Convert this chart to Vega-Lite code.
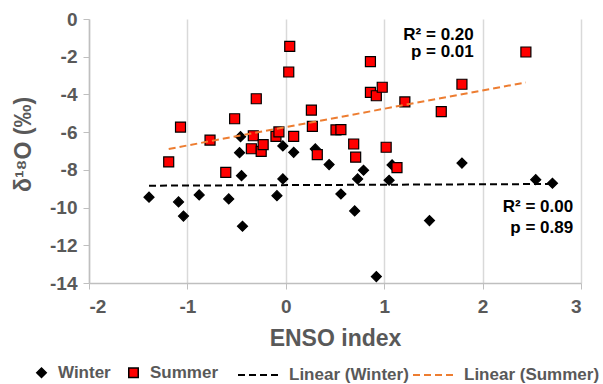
{
  "$schema": "https://vega.github.io/schema/vega-lite/v6.json",
  "width": 492,
  "height": 264,
  "autosize": "none",
  "padding": {"left": 89, "top": 19, "right": 22, "bottom": 101},
  "background": "white",
  "config": {
    "view": {"stroke": null},
    "font": "Liberation Sans",
    "axis": {
      "labelFont": "Liberation Sans",
      "labelFontSize": 19,
      "labelFontWeight": "bold",
      "labelColor": "#595959",
      "titleFont": "Liberation Sans",
      "titleFontSize": 23,
      "titleFontWeight": "bold",
      "titleColor": "#595959",
      "domainColor": "#bfbfbf",
      "tickColor": "#bfbfbf",
      "gridColor": "#d9d9d9",
      "tickSize": 6,
      "domainWidth": 1.5,
      "gridWidth": 1.5
    },
    "legend": {
      "labelFont": "Liberation Sans",
      "labelFontSize": 17,
      "labelFontWeight": "bold",
      "labelColor": "#595959",
      "labelLimit": 300
    }
  },
  "datasets": {
    "points": [
      {"season": "Winter", "enso": -1.39, "d18O": -9.45},
      {"season": "Winter", "enso": -1.09, "d18O": -9.70},
      {"season": "Winter", "enso": -1.04, "d18O": -10.45},
      {"season": "Winter", "enso": -0.88, "d18O": -9.33},
      {"season": "Winter", "enso": -0.58, "d18O": -9.54},
      {"season": "Winter", "enso": -0.44, "d18O": -10.99},
      {"season": "Winter", "enso": -0.09, "d18O": -9.37},
      {"season": "Winter", "enso": -0.46, "d18O": -6.24},
      {"season": "Winter", "enso": -0.47, "d18O": -7.09},
      {"season": "Winter", "enso": -0.45, "d18O": -8.31},
      {"season": "Winter", "enso": -0.03, "d18O": -6.73},
      {"season": "Winter", "enso": 0.08, "d18O": -7.07},
      {"season": "Winter", "enso": -0.03, "d18O": -8.48},
      {"season": "Winter", "enso": 0.30, "d18O": -6.89},
      {"season": "Winter", "enso": 0.44, "d18O": -7.72},
      {"season": "Winter", "enso": 0.79, "d18O": -8.02},
      {"season": "Winter", "enso": 0.73, "d18O": -8.48},
      {"season": "Winter", "enso": 0.56, "d18O": -9.28},
      {"season": "Winter", "enso": 0.70, "d18O": -10.18},
      {"season": "Winter", "enso": 1.08, "d18O": -7.74},
      {"season": "Winter", "enso": 1.05, "d18O": -8.55},
      {"season": "Winter", "enso": 1.46, "d18O": -10.69},
      {"season": "Winter", "enso": 0.92, "d18O": -13.66},
      {"season": "Winter", "enso": 1.79, "d18O": -7.64},
      {"season": "Winter", "enso": 2.54, "d18O": -8.52},
      {"season": "Winter", "enso": 2.71, "d18O": -8.71},
      {"season": "Summer", "enso": -1.19, "d18O": -7.58},
      {"season": "Summer", "enso": -1.07, "d18O": -5.73},
      {"season": "Summer", "enso": -0.77, "d18O": -6.42},
      {"season": "Summer", "enso": -0.61, "d18O": -8.13},
      {"season": "Summer", "enso": -0.52, "d18O": -5.29},
      {"season": "Summer", "enso": -0.30, "d18O": -4.23},
      {"season": "Summer", "enso": -0.35, "d18O": -6.88},
      {"season": "Summer", "enso": -0.33, "d18O": -6.19},
      {"season": "Summer", "enso": -0.25, "d18O": -7.02},
      {"season": "Summer", "enso": -0.23, "d18O": -6.66},
      {"season": "Summer", "enso": -0.10, "d18O": -6.22},
      {"season": "Summer", "enso": -0.07, "d18O": -5.99},
      {"season": "Summer", "enso": 0.04, "d18O": -1.45},
      {"season": "Summer", "enso": 0.03, "d18O": -2.81},
      {"season": "Summer", "enso": 0.08, "d18O": -6.22},
      {"season": "Summer", "enso": 0.26, "d18O": -4.83},
      {"season": "Summer", "enso": 0.27, "d18O": -5.69},
      {"season": "Summer", "enso": 0.51, "d18O": -5.88},
      {"season": "Summer", "enso": 0.56, "d18O": -5.87},
      {"season": "Summer", "enso": 0.69, "d18O": -6.63},
      {"season": "Summer", "enso": 0.71, "d18O": -7.33},
      {"season": "Summer", "enso": 0.32, "d18O": -7.19},
      {"season": "Summer", "enso": 0.86, "d18O": -2.26},
      {"season": "Summer", "enso": 0.86, "d18O": -3.89},
      {"season": "Summer", "enso": 0.92, "d18O": -4.07},
      {"season": "Summer", "enso": 0.98, "d18O": -3.62},
      {"season": "Summer", "enso": 1.02, "d18O": -6.80},
      {"season": "Summer", "enso": 1.13, "d18O": -7.88},
      {"season": "Summer", "enso": 1.21, "d18O": -4.40},
      {"season": "Summer", "enso": 1.58, "d18O": -4.91},
      {"season": "Summer", "enso": 1.79, "d18O": -3.46},
      {"season": "Summer", "enso": 2.44, "d18O": -1.75}
    ],
    "trends": [
      {"trend": "Linear (Winter)", "enso": -1.39, "d18O": -8.84},
      {"trend": "Linear (Winter)", "enso": 2.71, "d18O": -8.75},
      {"trend": "Linear (Summer)", "enso": -1.19, "d18O": -6.89},
      {"trend": "Linear (Summer)", "enso": 2.44, "d18O": -3.36}
    ],
    "notes": [
      {"text": "R² = 0.20", "enso": 1.91, "d18O": -1.09},
      {"text": "p = 0.01", "enso": 1.91, "d18O": -1.99},
      {"text": "R² = 0.00", "enso": 2.92, "d18O": -10.25},
      {"text": "p = 0.89", "enso": 2.92, "d18O": -11.36}
    ]
  },
  "encoding": {
    "x": {
      "field": "enso", "type": "quantitative",
      "scale": {"domain": [-2, 3], "nice": false, "zero": false},
      "axis": {"values": [-2, -1, 0, 1, 2, 3], "grid": true, "title": "ENSO index", "labelExpr": "toString(datum.value)", "labelPadding": 8, "titlePadding": 11}
    },
    "y": {
      "field": "d18O", "type": "quantitative",
      "scale": {"domain": [-14, 0], "nice": false, "zero": false},
      "axis": {"values": [-14, -12, -10, -8, -6, -4, -2, 0], "grid": false, "title": "δ¹⁸O (‰)", "labelExpr": "toString(datum.value)", "labelPadding": 6, "titlePadding": 14, "titleY": 125}
    }
  },
  "layer": [
    {
      "data": {"name": "points"},
      "mark": {"type": "point", "filled": true, "opacity": 1, "stroke": "black", "strokeWidth": 1.2, "size": 100},
      "encoding": {
        "color": {
          "field": "season", "type": "nominal",
          "scale": {"domain": ["Winter", "Summer"], "range": ["black", "#ff0000"]},
          "legend": {"orient": "none", "direction": "horizontal", "title": null, "legendX": -56, "legendY": 345, "symbolSize": 90, "labelOffset": 8, "columnPadding": 14}
        },
        "shape": {
          "field": "season", "type": "nominal",
          "scale": {"domain": ["Winter", "Summer"], "range": ["diamond", "square"]},
          "legend": {"orient": "none", "direction": "horizontal", "title": null, "legendX": -56, "legendY": 345, "symbolSize": 90, "labelOffset": 8, "columnPadding": 14}
        }
      }
    },
    {
      "data": {"name": "trends"},
      "mark": {"type": "line", "strokeWidth": 2},
      "encoding": {
        "color": {
          "field": "trend", "type": "nominal",
          "scale": {"domain": ["Linear (Winter)", "Linear (Summer)"], "range": ["black", "#ed7d31"]},
          "legend": {"orient": "none", "direction": "horizontal", "title": null, "legendX": 148, "legendY": 334, "symbolSize": 1764, "symbolType": "stroke", "symbolStrokeWidth": 2, "labelOffset": 8, "columnPadding": 0}
        },
        "strokeDash": {
          "field": "trend", "type": "nominal",
          "scale": {"domain": ["Linear (Winter)", "Linear (Summer)"], "range": [[7, 4], [7, 4]]},
          "legend": {"orient": "none", "direction": "horizontal", "title": null, "legendX": 148, "legendY": 334, "symbolSize": 1764, "symbolType": "stroke", "symbolStrokeWidth": 2, "labelOffset": 8, "columnPadding": 0}
        }
      }
    },
    {
      "data": {"name": "notes"},
      "mark": {"type": "text", "align": "right", "baseline": "alphabetic", "font": "Liberation Sans", "fontSize": 17, "fontWeight": "bold", "color": "black"},
      "encoding": {
        "text": {"field": "text", "type": "nominal"}
      }
    }
  ],
  "resolve": {
    "scale": {"color": "independent", "shape": "independent", "strokeDash": "independent"},
    "legend": {"color": "independent", "shape": "independent", "strokeDash": "independent"}
  }
}
